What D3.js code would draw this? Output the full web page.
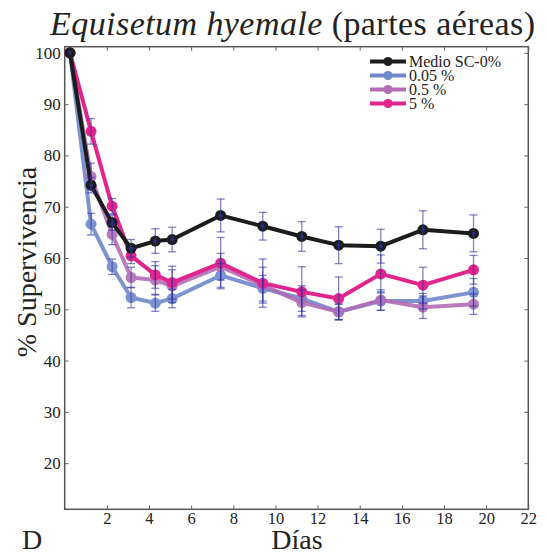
<!DOCTYPE html>
<html>
<head>
<meta charset="utf-8">
<script src="https://cdn.jsdelivr.net/npm/d3@7"></script>
<style>
  body { margin: 0; background: #fff; }
  text { font-family: "Liberation Serif", "Times New Roman", Times, serif; fill: #222; }
</style>
</head>
<body>
<svg></svg>
<script>
const SVGsize = {w: 546, h: 554};
const plot = {l: 64.7, r: 528.3, t: 46.7, b: 509.3};

// data
const days = [0.25, 1.25, 2.25, 3.15, 4.3, 5.1, 7.4, 9.4, 11.25, 13, 15, 17, 19.4];
const seriesNames = ['Medio SC-0%', '0.05 %', '0.5 %', '5 %'];
const control = [100, 74.2, 66.9, 61.9, 63.3, 63.6, 68.3, 66.2, 64.2, 62.5, 62.3, 65.5, 64.8];
const controlErr = [0, 1.5, 1.5, 1.7, 2.4, 2.4, 3.2, 2.7, 2.9, 3.6, 3.3, 3.7, 3.6];
const dose005 = [100, 66.6, 58.3, 52.3, 51.2, 52.1, 56.6, 54.1, 52.1, 49.5, 51.6, 51.6, 53.3];
const dose005Err = [0, 2.1, 1.5, 2.0, 1.6, 1.8, 2.3, 2.5, 2.5, 1.5, 1.8, 1.5, 2.7];
const dose05 = [100, 75.9, 64.6, 56.2, 55.7, 54.5, 58.3, 54.7, 51.3, 49.5, 51.8, 50.4, 51.0];
const dose05Err = [0, 2.6, 2.0, 2.0, 2.8, 3.2, 2.6, 3.5, 2.5, 1.5, 2.0, 2.2, 2.0];
const dose5 = [100, 84.7, 70.1, 60.4, 56.7, 55.2, 59.0, 55.1, 53.4, 52.1, 56.9, 54.7, 57.7];
const dose5Err = [0, 2.5, 1.5, 1.5, 2.6, 3.2, 5.0, 4.7, 4.9, 4.2, 3.7, 3.5, 2.8];
const xTicks = [2, 4, 6, 8, 10, 12, 14, 16, 18, 20, 22];
const yTicks = [20, 30, 40, 50, 60, 70, 80, 90, 100];

const colors = ['#1c1c1c', '#6f88cc', '#b36cb5', '#e2248d'];
const series = [
    {name: seriesNames[0], vals: control, err: controlErr, color: colors[0]},
    {name: seriesNames[1], vals: dose005, err: dose005Err, color: colors[1]},
    {name: seriesNames[2], vals: dose05, err: dose05Err, color: colors[2]},
    {name: seriesNames[3], vals: dose5, err: dose5Err, color: colors[3]}
];

const serif = '"Liberation Serif", "Times New Roman", Times, serif';

const svg = d3.select('svg')
    .attr('width', SVGsize.w)
    .attr('height', SVGsize.h);

const scaleX = d3.scaleLinear().domain([0, 22]).range([plot.l, plot.r]);
const scaleY = d3.scaleLinear().domain([11, 101.2]).range([plot.b, plot.t]);

// frame
svg.append('rect')
    .attr('x', plot.l).attr('y', plot.t)
    .attr('width', plot.r - plot.l).attr('height', plot.b - plot.t)
    .attr('fill', 'none').attr('stroke', '#555').attr('stroke-width', 1.5);

// axes, ticks inward
const axisStyle = g => {
    g.attr('font-family', serif);
    g.select('.domain').remove();
    g.selectAll('line').attr('stroke', '#666').attr('stroke-width', 1);
    g.selectAll('text').attr('fill', '#333');
};
svg.append('g')
    .attr('transform', `translate(0, ${plot.b})`)
    .call(d3.axisBottom(scaleX).tickValues(xTicks).tickSizeInner(-4).tickPadding(3))
    .call(axisStyle)
    .attr('font-size', 16.5);
svg.append('g')
    .attr('transform', `translate(0, ${plot.t})`)
    .call(d3.axisTop(scaleX).tickValues(xTicks).tickSizeInner(-4).tickFormat(''))
    .call(axisStyle);
svg.append('g')
    .attr('transform', `translate(${plot.l}, 0)`)
    .call(d3.axisLeft(scaleY).tickValues(yTicks).tickSizeInner(-4).tickPadding(4))
    .call(axisStyle)
    .attr('font-size', 17);
svg.append('g')
    .attr('transform', `translate(${plot.r}, 0)`)
    .call(d3.axisRight(scaleY).tickValues(yTicks).tickSizeInner(-4).tickFormat(''))
    .call(axisStyle);

const line = d3.line()
    .x((d, i) => scaleX(days[i]))
    .y(d => scaleY(d));

// draw order: blue, purple, pink, black
const order = [1, 2, 3, 0];
order.forEach(k => {
    const s = series[k];
    const g = svg.append('g').attr('opacity', k === 1 || k === 2 ? 0.9 : 1);
    g.append('path')
        .datum(s.vals)
        .attr('d', line)
        .attr('fill', 'none')
        .attr('stroke', s.color)
        .attr('stroke-width', 4)
        .attr('stroke-linejoin', 'round');
    g.selectAll('circle')
        .data(s.vals)
        .join('circle')
        .attr('cx', (d, i) => scaleX(days[i]))
        .attr('cy', d => scaleY(d))
        .attr('r', 5.5)
        .attr('fill', s.color);
});

// error bars
const errColor = 'rgba(45, 50, 160, 0.6)';
series.forEach(s => {
    const g = svg.append('g')
        .attr('stroke', errColor)
        .attr('stroke-width', 1.3);
    s.vals.forEach((v, i) => {
        if (!s.err[i]) return;
        const x = scaleX(days[i]);
        const y0 = scaleY(v - s.err[i]), y1 = scaleY(v + s.err[i]);
        g.append('line').attr('x1', x).attr('x2', x).attr('y1', y0).attr('y2', y1);
        g.append('line').attr('x1', x - 4).attr('x2', x + 4).attr('y1', y0).attr('y2', y0);
        g.append('line').attr('x1', x - 4).attr('x2', x + 4).attr('y1', y1).attr('y2', y1);
    });
});
// navy dot on black markers
svg.append('g').selectAll('circle')
    .data(control)
    .join('circle')
    .attr('cx', (d, i) => scaleX(days[i]))
    .attr('cy', d => scaleY(d))
    .attr('r', 2)
    .attr('fill', 'rgba(45, 50, 160, 0.7)');

// legend
const legend = svg.append('g');
series.forEach((s, i) => {
    const y = 61.5 + i * 14;
    legend.append('line')
        .attr('x1', 370).attr('x2', 406)
        .attr('y1', y).attr('y2', y)
        .attr('stroke', s.color).attr('stroke-width', 4);
    legend.append('circle')
        .attr('cx', 388).attr('cy', y).attr('r', 4.5)
        .attr('fill', s.color);
    legend.append('text')
        .attr('x', 409).attr('y', y + 5)
        .style('font-size', '16px')
        .text(s.name);
});

// titles
const title = svg.append('text')
    .attr('x', 50).attr('y', 35)
    .attr('textLength', 485)
    .attr('lengthAdjust', 'spacing')
    .style('font-size', '34px');
title.append('tspan').style('font-style', 'italic').text('Equisetum hyemale');
title.append('tspan').text(' (partes aéreas)');

svg.append('text')
    .attr('x', 297).attr('y', 549)
    .attr('text-anchor', 'middle')
    .style('font-size', '28px')
    .text('Días');

svg.append('text')
    .attr('x', 22).attr('y', 549)
    .style('font-size', '28px')
    .text('D');

svg.append('text')
    .attr('transform', 'translate(36, 262) rotate(-90)')
    .attr('text-anchor', 'middle')
    .style('font-size', '28px')
    .text('% Supervivencia');
</script>
</body>
</html>
